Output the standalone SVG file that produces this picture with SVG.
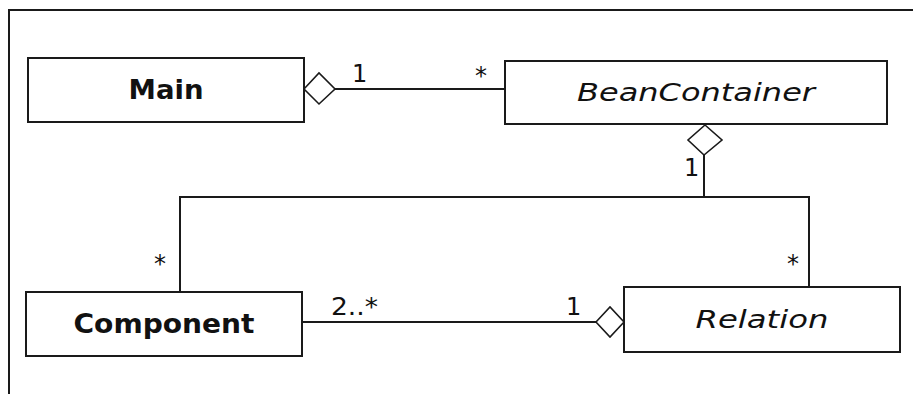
<svg xmlns="http://www.w3.org/2000/svg" width="913" height="394" viewBox="0 0 913 394">
  <style>
    .box { fill: #ffffff; stroke: #1a1a1a; stroke-width: 2; }
    .line { fill: none; stroke: #1a1a1a; stroke-width: 2; }
    .agg { fill: #ffffff; stroke: #1a1a1a; stroke-width: 1.6; }
    .name { font-family: "DejaVu Sans", Verdana, sans-serif; font-size: 27px; font-weight: bold; fill: #111; text-anchor: middle; }
    .abstract { font-family: "DejaVu Sans", Verdana, sans-serif; font-size: 25px; font-style: italic; fill: #111; text-anchor: middle; }
    .mult { font-family: "DejaVu Sans", Verdana, sans-serif; font-size: 24px; fill: #111; }
  </style>

  <rect width="913" height="394" fill="#ffffff"/>
  <!-- frame edges -->
  <path class="line" d="M9,394 V10 H913" stroke="#333"/>

  <g id="connectors">
    <!-- Main <>— BeanContainer -->
    <line class="line" x1="335" y1="89" x2="505" y2="89"/>
    <polygon class="agg" points="304,89 319,73 335,89 319,104"/>
    <text class="mult" x="352" y="82">1</text>
    <text class="mult" x="475" y="84">*</text>

    <!-- BeanContainer <>— Component / Relation -->
    <line class="line" x1="704" y1="155" x2="704" y2="197"/>
    <path class="line" d="M180,292 V197 H809 V287"/>
    <polygon class="agg" points="705,125 722,140 704,155 688,140"/>
    <text class="mult" x="684" y="176">1</text>
    <text class="mult" x="154" y="272">*</text>
    <text class="mult" x="787" y="272">*</text>

    <!-- Component —<> Relation -->
    <line class="line" x1="302" y1="322" x2="596" y2="322"/>
    <polygon class="agg" points="596,322 610,307 624,322 610,337"/>
    <text class="mult" x="331" y="315" textLength="47" lengthAdjust="spacingAndGlyphs">2..*</text>
    <text class="mult" x="566" y="315">1</text>
  </g>

  <g id="main">
    <rect class="box" x="28" y="58" width="276" height="64"/>
    <text class="name" x="166" y="99" textLength="75" lengthAdjust="spacingAndGlyphs">Main</text>
  </g>

  <g id="bean-container">
    <rect class="box" x="505" y="61" width="382" height="63"/>
    <text class="abstract" x="696" y="101" textLength="238" lengthAdjust="spacingAndGlyphs">BeanContainer</text>
  </g>

  <g id="component">
    <rect class="box" x="26" y="292" width="276" height="64"/>
    <text class="name" x="164" y="333" textLength="181" lengthAdjust="spacingAndGlyphs">Component</text>
  </g>

  <g id="relation">
    <rect class="box" x="624" y="287" width="276" height="65"/>
    <text class="abstract" x="762" y="328" textLength="133" lengthAdjust="spacingAndGlyphs">Relation</text>
  </g>
</svg>
